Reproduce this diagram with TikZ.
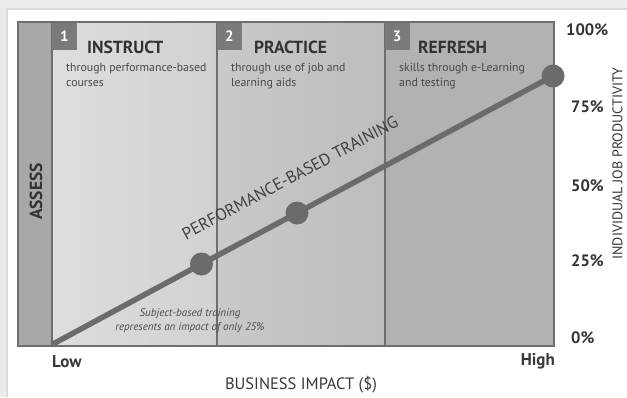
\documentclass[tikz,border=0pt]{standalone}
\usepackage{fontspec}
\setmainfont{PT Sans}
\begin{document}
\begin{tikzpicture}[x=1pt,y=-1pt,
  framecol/.style={draw=black!57, line width=1.8pt},
  numbox/.style={fill=black!52, text=white, minimum width=25pt, minimum height=27pt, inner sep=0pt, font=\fontsize{15}{15}\selectfont\bfseries},
  coltitle/.style={anchor=base west, inner sep=0pt, text=black!80, font=\fontsize{17.5}{17.5}\selectfont\bfseries},
  colsub/.style={anchor=north west, inner sep=0pt, align=left, text=black!72, font=\fontsize{11.8}{15}\selectfont},
  pct/.style={anchor=west, inner sep=0pt, text=black!80, font=\fontsize{16.5}{16.5}\selectfont\bfseries},
  dot/.style={circle, fill=black!58, minimum size=23pt, inner sep=0pt},
  trend/.style={draw=black!58, line width=5.5pt},
  axislab/.style={inner sep=0pt, text=black!78, font=\fontsize{16.5}{16.5}\selectfont}
]
\useasboundingbox (0,0) rectangle (627,397);
% background and panel
\fill[black!8] (0,0) rectangle (627,397);
\fill[black!14] (6,8) rectangle (627,397);
\fill[white] (8,10) rectangle (627,397);
% columns
\fill[black!34] (18,22) rectangle (52,346);
\shade[left color=black!13, right color=black!18] (52,22) rectangle (217,346);
\shade[left color=black!21, right color=black!26] (217,22) rectangle (385,346);
\fill[black!30] (385,22) rectangle (554,346);
\draw[framecol] (18,22) rectangle (554,346);
\draw[framecol] (52,22) -- (52,346);
\draw[framecol] (217,22) -- (217,346);
\draw[framecol] (385,22) -- (385,346);
% number boxes
\node[numbox] (n1) at (64.5,36) {1};
\node[numbox] (n2) at (229.5,36) {2};
\node[numbox] (n3) at (397,36) {3};
% titles
\node[coltitle] (t1) at (87,53.5) {INSTRUCT};
\node[coltitle] (t2) at (254,53.5) {PRACTICE};
\node[coltitle] (t3) at (418,53.5) {REFRESH};
\node[colsub] (s1) at (66,62.5) {through performance-based\\courses};
\node[colsub] (s2) at (231,62.5) {through use of job and\\learning aids};
\node[colsub] (s3) at (399,62.5) {skills through e-Learning\\and testing};
% assess
\node[rotate=90, inner sep=0pt, text=black!80, font=\fontsize{17.5}{17.5}\selectfont\bfseries] (assess) at (36,191.5) {ASSESS};
% trend line
\coordinate (start) at (53,344);
\node[dot] (d1) at (201.5,264) {};
\node[dot] (d2) at (297,213) {};
\node[dot] (d3) at (553,76) {};
\draw[trend] (start) -- (d1.center) -- (d2.center) -- (d3.center);
\node[rotate=28.2, inner sep=0pt, text=black!75, font=\fontsize{16.8}{16.8}\selectfont] (pbt) at (290,178) {PERFORMANCE-BASED TRAINING};
\node[align=center, inner sep=0pt, text=black!70, font=\fontsize{11}{14.5}\selectfont\itshape] (note) at (190,320.5) {Subject-based training\\represents an impact of only 25\%};
% percentages
\node[pct] (p100) at (566,30) {100\%};
\node[pct] (p75) at (571,107) {75\%};
\node[pct] (p50) at (571,186) {50\%};
\node[pct] (p25) at (571,261) {25\%};
\node[pct] (p0) at (571,338) {0\%};
% axis labels
\node[rotate=90, axislab, font=\fontsize{14}{14}\selectfont] (ylab) at (617.5,163.5) {INDIVIDUAL JOB PRODUCTIVITY};
\node[axislab, font=\fontsize{17}{17}\selectfont\bfseries, anchor=west] (low) at (52,362) {Low};
\node[axislab, font=\fontsize{17}{17}\selectfont\bfseries, anchor=east] (high) at (555,361) {High};
\node[axislab] (xlab) at (301,385) {BUSINESS IMPACT (\$)};
\end{tikzpicture}
\end{document}
